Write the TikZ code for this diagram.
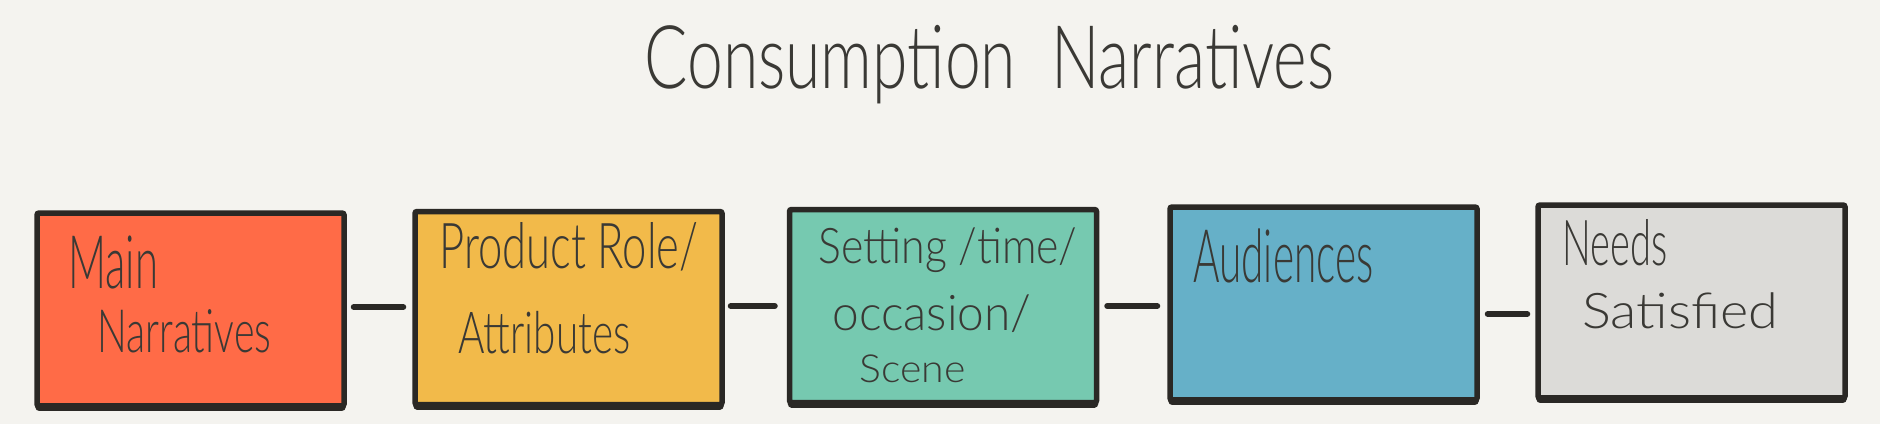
\documentclass[tikz,border=0pt]{standalone}
\usepackage{fontspec}
\setmainfont{Lato Light}
\usepackage{graphicx}
\newdimen\pxu \pxu=0.02cm
\newcommand{\hw}[2]{\resizebox{#1\pxu}{\height}{#2}}
\definecolor{bg}{HTML}{F4F3EF}
\definecolor{ink}{HTML}{2A2825}
\definecolor{txt}{HTML}{3A3935}
\definecolor{cred}{HTML}{FF6B47}
\definecolor{cyel}{HTML}{F2BA4A}
\definecolor{cgrn}{HTML}{76C9B0}
\definecolor{cblu}{HTML}{66B0C8}
\definecolor{cgry}{HTML}{DCDBD8}
\tikzset{
  box/.style={draw=ink, line width=5.5\pxu, rounded corners=2\pxu, inner sep=0pt,
    minimum width=307\pxu, minimum height=193\pxu},
  conn/.style={draw=ink, line width=6\pxu, line cap=round},
  lbl/.style={anchor=base west, inner sep=0pt, text=txt},
}
\begin{document}
\begin{tikzpicture}[x=0.02cm, y=-0.02cm]
\useasboundingbox (0,0) rectangle (1880,424);
\fill[bg] (0,0) rectangle (1880,424);

% title
\node[lbl, font=\fontsize{50}{60}\selectfont] (title) at (644,88) {\hw{690}{Consumption\ \ Narratives}};

% boxes
\node[box, fill=cred] (b1) at (190.5,309.5) {};
\node[box, fill=cyel] (b2) at (568.5,308) {};
\node[box, fill=cgrn] (b3) at (943,306) {};
\node[box, fill=cblu] (b4) at (1323.5,303.5) {};
\node[box, fill=cgry] (b5) at (1691.5,301.5) {};

% thicker bottom edges (sketchy look)
\foreach \b in {b1,b2,b3,b4,b5}{
  \draw[ink, line width=8\pxu, line cap=round] (\b.south west) ++(5,-1.5) -- ([shift={(-5,-1.5)}]\b.south east);
}

% connectors
\draw[conn, shorten <=7\pxu, shorten >=9\pxu] (b1.east |- 0,307) -- (b2.west |- 0,307);
\draw[conn, shorten <=6\pxu, shorten >=12\pxu] (b2.east |- 0,306) -- (b3.west |- 0,306);
\draw[conn, shorten <=8\pxu, shorten >=10\pxu] (b3.east |- 0,306) -- (b4.west |- 0,306);
\draw[conn, shorten <=8\pxu, shorten >=8\pxu] (b4.east |- 0,314) -- (b5.west |- 0,314);

% texts
\node[lbl, font=\fontsize{42}{50}\selectfont] (t1a) at (68,288) {\hw{90}{Main}};
\node[lbl, font=\fontsize{34}{40}\selectfont] (t1b) at (97,352) {\hw{174}{Narratives}};

\node[lbl, font=\fontsize{36}{44}\selectfont] (t2a) at (439,268) {\hw{259}{Product Role/}};
\node[lbl, font=\fontsize{33}{40}\selectfont] (t2b) at (458,353) {\hw{172}{Attributes}};

\node[lbl, font=\fontsize{28}{34}\selectfont] (t3a) at (818,263) {\hw{259}{Setting /time/}};
\node[lbl, font=\fontsize{28}{34}\selectfont] (t3b) at (832,330) {\hw{199}{occasion/}};
\node[lbl, font=\fontsize{22}{28}\selectfont] (t3c) at (859,382) {\hw{106}{Scene}};

\node[lbl, font=\fontsize{42}{50}\selectfont] (t4a) at (1193,282) {\hw{180}{Audiences}};

\node[lbl, font=\fontsize{36}{44}\selectfont] (t5a) at (1562,265) {\hw{105}{Needs}};
\node[lbl, font=\fontsize{28}{34}\selectfont] (t5b) at (1582,328) {\hw{196}{Satisfied}};
\end{tikzpicture}
\end{document}
